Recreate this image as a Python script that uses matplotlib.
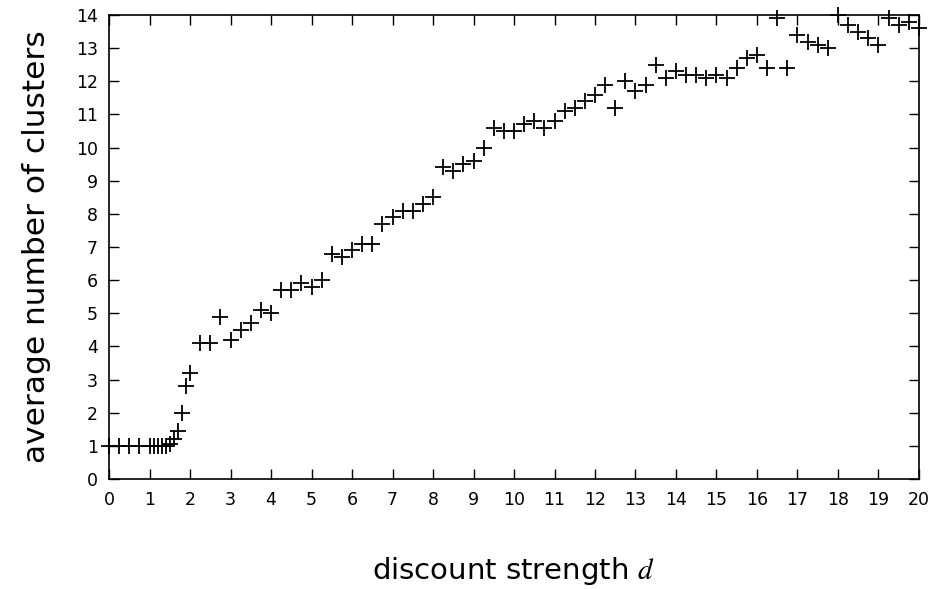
import numpy as np
import matplotlib
matplotlib.use("Agg")
import matplotlib.pyplot as plt

plt.rcParams['mathtext.fontset'] = 'stix'

# discount strength d
d_values = [0.0, 0.25, 0.5, 0.75,
            1.0, 1.1, 1.2, 1.3, 1.4, 1.5, 1.6, 1.7, 1.8, 1.9, 2.0,
            2.25, 2.5, 2.75, 3.0, 3.25, 3.5, 3.75, 4.0,
            4.25, 4.5, 4.75, 5.0, 5.25, 5.5, 5.75, 6.0,
            6.25, 6.5, 6.75, 7.0, 7.25, 7.5, 7.75, 8.0,
            8.25, 8.5, 8.75, 9.0, 9.25, 9.5, 9.75, 10.0,
            10.25, 10.5, 10.75, 11.0, 11.25, 11.5, 11.75, 12.0,
            12.25, 12.5, 12.75, 13.0, 13.25, 13.5, 13.75, 14.0,
            14.25, 14.5, 14.75, 15.0, 15.25, 15.5, 15.75, 16.0,
            16.25, 16.5, 16.75, 17.0, 17.25, 17.5, 17.75, 18.0,
            18.25, 18.5, 18.75, 19.0, 19.25, 19.5, 19.75, 20.0]

# average number of clusters
clusters = [1.0, 1.0, 1.0, 1.0,
            1.0, 1.0, 1.0, 1.0, 1.0, 1.05, 1.2, 1.45, 2.0, 2.8, 3.2,
            4.1, 4.1, 4.9, 4.2, 4.5, 4.7, 5.1, 5.0,
            5.7, 5.7, 5.9, 5.8, 6.0, 6.8, 6.7, 6.9,
            7.1, 7.1, 7.7, 7.9, 8.1, 8.1, 8.3, 8.5,
            9.4, 9.3, 9.5, 9.6, 10.0, 10.6, 10.5, 10.5,
            10.7, 10.8, 10.6, 10.8, 11.1, 11.2, 11.4, 11.6,
            11.9, 11.2, 12.0, 11.7, 11.9, 12.5, 12.1, 12.3,
            12.2, 12.2, 12.1, 12.2, 12.1, 12.4, 12.7, 12.8,
            12.4, 13.9, 12.4, 13.4, 13.2, 13.1, 13.0, 14.0,
            13.7, 13.5, 13.3, 13.1, 13.9, 13.7, 13.8, 13.6]

fig = plt.figure(figsize=(9.36, 5.89), dpi=100)
ax = fig.add_axes([0.1165, 0.1868, 0.8653, 0.7877])

ax.plot(d_values, clusters, linestyle='none', marker='+', color='black',
        markersize=11.5, markeredgewidth=1.3, clip_on=False)

ax.set_xlim(0, 20)
ax.set_ylim(0, 14)
ax.set_xticks(range(0, 21))
ax.set_yticks(range(0, 15))

ax.tick_params(direction='in', length=7, width=1, top=True, right=True,
               labelsize=12.5, colors='black')
ax.tick_params(axis='x', pad=9)
ax.tick_params(axis='y', pad=8)
for s in ax.spines.values():
    s.set_linewidth(1.2)

ax.set_ylabel('average number of clusters', fontsize=22.5, labelpad=18)
ax.set_xlabel('discount strength $d$', fontsize=21, labelpad=33)

fig.savefig('out.png', dpi=100)
